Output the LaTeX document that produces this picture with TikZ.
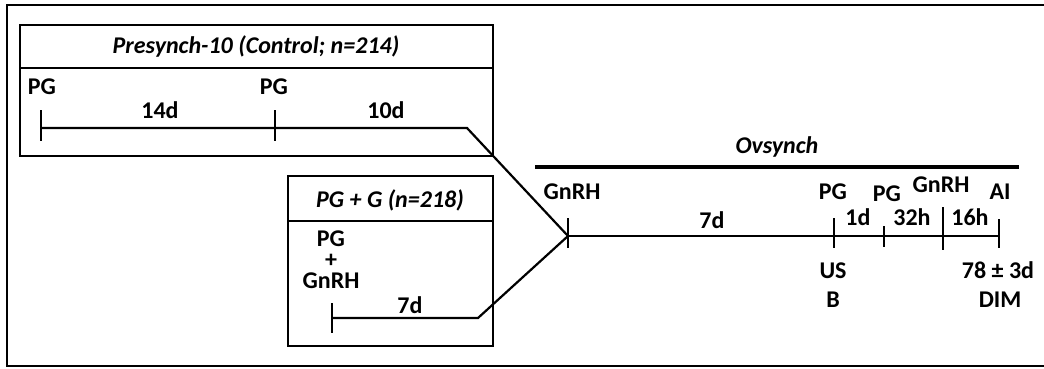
\documentclass[tikz,border=0pt]{standalone}
\usepackage{fontspec}
\setmainfont{Carlito}
\begin{document}
\begin{tikzpicture}[x=1pt,y=-1pt,
  lbl/.style={font=\fontsize{24}{26}\selectfont\bfseries, inner sep=0pt, anchor=base},
  ttl/.style={font=\fontsize{24}{26}\selectfont\bfseries\itshape, inner sep=0pt, anchor=base},
  stack/.style={font=\fontsize{24}{21}\selectfont\bfseries, inner sep=0pt, anchor=base, align=center},
  frame/.style={line width=2.5pt},
  tl/.style={line width=2.2pt},
  tick/.style={line width=1.8pt}]
\useasboundingbox (0,0) rectangle (1044,369);
\begin{scope}
\clip (0,0) rectangle (1044,369);
\draw[line width=1.6pt] (7,5) rectangle (1060,366);
\end{scope}

% Presynch-10 panel
\draw[frame] (20,25) rectangle (493,156);
\draw[frame] (20,68) -- (493,68);
\node[ttl] (t1) at (256,54) {Presynch-10 (Control; n=214)};
\coordinate (p1) at (41,128);
\coordinate (p2) at (275,128);
\coordinate (p3) at (467,128);
\draw[tick] (41,110) -- (41,141);
\draw[tick] (275,110) -- (275,141);
\node[lbl] (pg1) at (42,95) {PG};
\node[lbl] (pg2) at (274,95) {PG};
\node[lbl] (d14) at (160,118) {14d};
\node[lbl] (d10) at (386,118) {10d};

% PG + G panel (stack anchored at the baseline of its last line)
\draw[frame] (288,176) rectangle (493,346);
\draw[frame] (288,221) -- (493,221);
\node[ttl] (t2) at (390,207) {PG + G (n=218)};
\node[stack] (pgb) at (331,288) {PG\\+\\GnRH};
\node[lbl] (d7b) at (410,313) {7d};
\coordinate (q1) at (332,318);
\coordinate (q2) at (478,318);
\draw[tick] (332,303) -- (332,333);

% Ovsynch
\draw[line width=4pt] (535,167) -- (1019,167);
\node[ttl] (t3) at (777,153) {Ovsynch};
\coordinate (g0) at (568,236);
\coordinate (g1) at (834,236);
\coordinate (g2) at (884,236);
\coordinate (g3) at (943,236);
\coordinate (g4) at (999,236);

\draw[tl] (p1) -- (p3) -- (g0);
\draw[tl] (q1) -- (q2) -- (g0);
\draw[tl] (g0) -- (g4);
\draw[tick] (568,218) -- (568,248);
\draw[tick] (834,218) -- (834,248);
\draw[tick] (884,226) -- (884,247);
\draw[tick] (943,207) -- (943,250);
\draw[tick] (999,219) -- (999,248);

\node[lbl] (gn0) at (572,199) {GnRH};
\node[lbl] (d7) at (712,228) {7d};
\node[lbl] (pgo1) at (833,199) {PG};
\node[lbl] (pgo2) at (887,201) {PG};
\node[lbl] (gno) at (941,192) {GnRH};
\node[lbl] (ai) at (1000,199) {AI};
\node[lbl] (d1) at (858,225) {1d};
\node[lbl] (h32) at (912,225) {32h};
\node[lbl] (h16) at (970,225) {16h};
\node[lbl] (us) at (833,278) {US};
\node[lbl] (b) at (833,307) {B};
\node[lbl] (dim1) at (998,278) {78 ± 3d};
\node[lbl] (dim2) at (1000,307) {DIM};
\end{tikzpicture}
\end{document}
